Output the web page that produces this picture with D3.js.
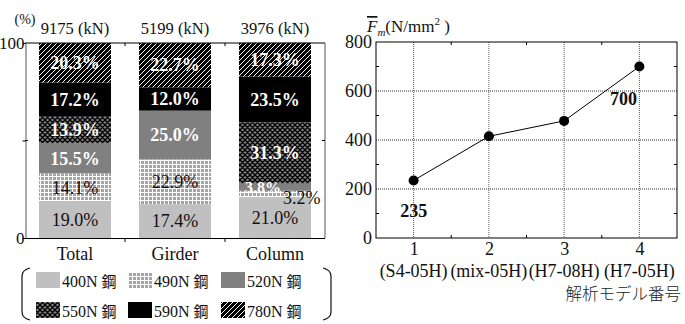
<!DOCTYPE html>
<html><head><meta charset="utf-8">
<script src="https://cdn.jsdelivr.net/npm/d3@7"></script>
<style>
html,body{margin:0;padding:0;background:#fff;}
svg{display:block;font-family:"Liberation Serif","Times New Roman",serif;}
text{font-family:"Liberation Serif","Times New Roman",serif;}
.cjk{font-family:"Noto Sans CJK JP",sans-serif;}
</style></head>
<body>
<svg id="c" width="685" height="324"></svg>
<script>
// ---- Left chart data ----
const categories = ["Total", "Girder", "Column"];
const forces = ["9175 (kN)", "5199 (kN)", "3976 (kN)"];
const grades = ["400N", "490N", "520N", "550N", "590N", "780N"];
const s400 = [19.0, 17.4, 21.0];
const s490 = [14.1, 22.9, 3.2];
const s520 = [15.5, 25.0, 3.8];
const s550 = [13.9, 0.0, 31.3];
const s590 = [17.2, 12.0, 23.5];
const s780 = [20.3, 22.7, 17.3];
const leftTicks = [0, 50, 100];

// ---- Right chart data ----
const modelNo = [1, 2, 3, 4];
const modelNames = ["(S4-05H)", "(mix-05H)", "(H7-08H)", "(H7-05H)"];
const fm = [235, 415, 478, 700];
const fmTicks = [0, 200, 400, 600, 800];

const svg = d3.select("#c");
const defs = svg.append("defs");

// patterns
const p490 = defs.append("pattern").attr("id","p490").attr("patternUnits","userSpaceOnUse").attr("width",4).attr("height",4);
p490.append("rect").attr("width",4).attr("height",4).attr("fill","#a4a4a4");
p490.append("rect").attr("width",4).attr("height",1).attr("fill","#fff");
p490.append("rect").attr("width",1).attr("height",4).attr("fill","#fff");

const p550 = defs.append("pattern").attr("id","p550").attr("patternUnits","userSpaceOnUse").attr("width",5).attr("height",5);
p550.append("rect").attr("width",5).attr("height",5).attr("fill","#808080");
p550.append("path").attr("d","M0,0L5,5M5,0L0,5M-1,4L1,6M4,-1L6,1M4,6L6,4M-1,1L1,-1").attr("stroke","#000").attr("stroke-width",1.3);

const p780 = defs.append("pattern").attr("id","p780").attr("patternUnits","userSpaceOnUse").attr("width",5).attr("height",5);
p780.append("rect").attr("width",5).attr("height",5).attr("fill","#000");
p780.append("path").attr("d","M-1,6L6,-1M-1,1L1,-1M4,6L6,4").attr("stroke","#fff").attr("stroke-width",1);

const fills = ["#c0c0c0","url(#p490)","#808080","url(#p550)","#000","url(#p780)"];
const series = [s400, s490, s520, s550, s590, s780];

// ---- Left chart ----
const xL = d3.scaleBand().domain(categories).range([25, 325]).paddingInner(0.28).paddingOuter(0.14);
const yL = d3.scaleLinear().domain([0, 100]).range([238, 43]);

const gL = svg.append("g");
categories.forEach((c, ci) => {
  let acc = 0;
  series.forEach((s, si) => {
    const v = s[ci];
    const y0 = acc, y1 = acc + v;
    acc = y1;
    if (v <= 0) return;
    gL.append("rect")
      .attr("x", xL(c)).attr("width", xL.bandwidth())
      .attr("y", yL(y1)).attr("height", yL(y0) - yL(y1))
      .attr("fill", fills[si]);
  });
});

// labels
categories.forEach((c, ci) => {
  let acc = 0;
  series.forEach((s, si) => {
    const v = s[ci];
    const mid = acc + v / 2;
    acc += v;
    if (v <= 0) return;
    let x = xL(c) + xL.bandwidth() / 2, y = yL(mid), anchor = "middle";
    let size = 18, weight = si >= 2 ? "bold" : "normal", fill = si >= 2 ? "#fff" : "#111";
    if (ci === 2 && si === 1) { x = xL(c) + xL.bandwidth() - 28; anchor = "start"; y = yL(mid) + 4; }
    if (ci === 2 && si === 2) { x = xL(c) + xL.bandwidth() / 2 - 12; size = 16; }
    gL.append("text").attr("x", x).attr("y", y).attr("dy", "0.35em")
      .attr("text-anchor", anchor).attr("font-size", size).attr("font-weight", weight)
      .attr("fill", fill).text(v.toFixed(1) + "%");
  });
});

// frame
gL.append("line").attr("x1",25).attr("x2",325).attr("y1",43).attr("y2",43).attr("stroke","#000");
gL.append("line").attr("x1",25).attr("x2",325).attr("y1",238.5).attr("y2",238.5).attr("stroke","#000");
gL.append("line").attr("x1",325).attr("x2",325).attr("y1",43).attr("y2",238).attr("stroke","#555");
const axL = d3.axisLeft(yL).tickValues(leftTicks).tickSize(3)
  .tickFormat(d => d === 50 ? "" : String(d));
const gax = gL.append("g").attr("transform","translate(25.5,0)").call(axL);
gax.select(".domain").attr("stroke","#555");
gax.selectAll("text").attr("font-size",17).attr("fill","#111").attr("x",-1);
gax.selectAll(".tick line").attr("stroke","#000");
gL.append("line").attr("x1",25).attr("x2",28).attr("y1",yL(50)).attr("y2",yL(50)).attr("stroke","#000");
gL.append("line").attr("x1",322).attr("x2",325).attr("y1",yL(50)).attr("y2",yL(50)).attr("stroke","#000");
// category separators ticks
categories.slice(1).forEach(c => {
  const xb = xL(c) - (xL.step() - xL.bandwidth()) / 2;
  gL.append("line").attr("x1",xb).attr("x2",xb).attr("y1",43).attr("y2",46).attr("stroke","#000");
  gL.append("line").attr("x1",xb).attr("x2",xb).attr("y1",238).attr("y2",242).attr("stroke","#000");
});
// category labels and forces
categories.forEach((c, ci) => {
  const cx = xL(c) + xL.bandwidth() / 2;
  gL.append("text").attr("x", cx).attr("y", 260).attr("text-anchor","middle").attr("font-size",18).attr("fill","#111").text(c);
  gL.append("text").attr("x", cx).attr("y", 34).attr("text-anchor","middle").attr("font-size",16.5).attr("fill","#111").text(forces[ci]);
});
gL.append("text").attr("x",25).attr("y",24).attr("text-anchor","middle").attr("font-size",14).attr("fill","#111").text("(%)");

// legend
const legX = [36, 128, 221], legY = [272, 302];
grades.forEach((g, i) => {
  const col = i % 3, row = Math.floor(i / 3);
  gL.append("rect").attr("x", legX[col]).attr("y", legY[row]).attr("width", 24).attr("height", 16).attr("fill", fills[i]);
  const t = gL.append("text").attr("x", legX[col] + 26).attr("y", legY[row] + 15).attr("font-size", 16).attr("fill","#111");
  t.append("tspan").text(g + " ");
  t.append("tspan").attr("class","cjk").attr("font-size",15).text("鋼");
});
gL.append("path").attr("d","M30,268 Q22,270 22,276 L22,312 Q22,318 30,320").attr("fill","none").attr("stroke","#111").attr("stroke-width",1.2);
gL.append("path").attr("d","M323,268 Q331,270 331,276 L331,312 Q331,318 323,320").attr("fill","none").attr("stroke","#111").attr("stroke-width",1.2);

// ---- Right chart ----
const xR = d3.scaleLinear().domain([0.5, 4.5]).range([376, 677]);
const yR = d3.scaleLinear().domain([0, 800]).range([238, 42]);
const gR = svg.append("g");
// grid
fmTicks.slice(1, -1).forEach(t => {
  gR.append("line").attr("x1",376).attr("x2",677).attr("y1",yR(t)).attr("y2",yR(t)).attr("stroke","#333").attr("stroke-dasharray","1,1");
});
modelNo.forEach(m => {
  gR.append("line").attr("x1",xR(m)).attr("x2",xR(m)).attr("y1",42).attr("y2",238).attr("stroke","#555").attr("stroke-dasharray","1,1");
});
// frame
gR.append("rect").attr("x",376).attr("y",42).attr("width",301).attr("height",196).attr("fill","none").attr("stroke","#000");
// minor ticks
[100,300,500,700].forEach(t => {
  gR.append("line").attr("x1",376).attr("x2",379).attr("y1",yR(t)).attr("y2",yR(t)).attr("stroke","#000");
  gR.append("line").attr("x1",674).attr("x2",677).attr("y1",yR(t)).attr("y2",yR(t)).attr("stroke","#000");
});
[1.5,2.5,3.5].forEach(t => {
  gR.append("line").attr("x1",xR(t)).attr("x2",xR(t)).attr("y1",42).attr("y2",45).attr("stroke","#000");
  gR.append("line").attr("x1",xR(t)).attr("x2",xR(t)).attr("y1",235).attr("y2",238).attr("stroke","#000");
});
// axes labels
const ayR = d3.axisLeft(yR).tickValues(fmTicks).tickSize(0).tickPadding(4);
const gay = gR.append("g").attr("transform","translate(376,0)").call(ayR);
gay.select(".domain").remove();
gay.selectAll("text").attr("font-size",18).attr("fill","#111");
const axR = d3.axisBottom(xR).tickValues(modelNo).tickSize(0).tickPadding(4).tickFormat(d3.format("d"));
const gaxR = gR.append("g").attr("transform","translate(0,238)").call(axR);
gaxR.select(".domain").remove();
gaxR.selectAll("text").attr("font-size",18).attr("fill","#111");
modelNo.forEach((m, i) => {
  gR.append("text").attr("x", xR(m)).attr("y", 277).attr("text-anchor","middle").attr("font-size",18).attr("fill","#111").text(modelNames[i]);
});
gR.append("text").attr("class","cjk").attr("x",681).attr("y",300).attr("text-anchor","end").attr("font-size",16.5).attr("font-weight",300).attr("fill","#222").text("解析モデル番号");

// line + points
const line = d3.line().x((d, i) => xR(modelNo[i])).y(d => yR(d));
gR.append("path").attr("d", line(fm)).attr("fill","none").attr("stroke","#000").attr("stroke-width",1);
gR.selectAll("circle.pt").data(fm).enter().append("circle")
  .attr("cx", (d, i) => xR(modelNo[i])).attr("cy", d => yR(d)).attr("r", 5).attr("fill","#000");
// value labels
gR.append("text").attr("x", xR(1)).attr("y", yR(fm[0]) + 30).attr("dy","0.35em").attr("text-anchor","middle").attr("font-size",18).attr("font-weight","bold").attr("fill","#111").text(fm[0]);
gR.append("text").attr("x", xR(4) - 16).attr("y", yR(fm[3]) + 32).attr("dy","0.35em").attr("text-anchor","middle").attr("font-size",18).attr("font-weight","bold").attr("fill","#111").text(fm[3]);

// y title: F-bar m (N/mm^2)
const tt = gR.append("text").attr("x", 367).attr("y", 32).attr("font-size",17).attr("fill","#111");
tt.append("tspan").attr("font-style","italic").attr("text-decoration","overline").text("F");
tt.append("tspan").attr("font-style","italic").attr("font-size",11).attr("dy",4).text("m");
tt.append("tspan").attr("dy",-4).text("(N/mm");
tt.append("tspan").attr("font-size",11).attr("dy",-7).text("2");
tt.append("tspan").attr("dy",7).text(" )");
</script>
</body></html>
